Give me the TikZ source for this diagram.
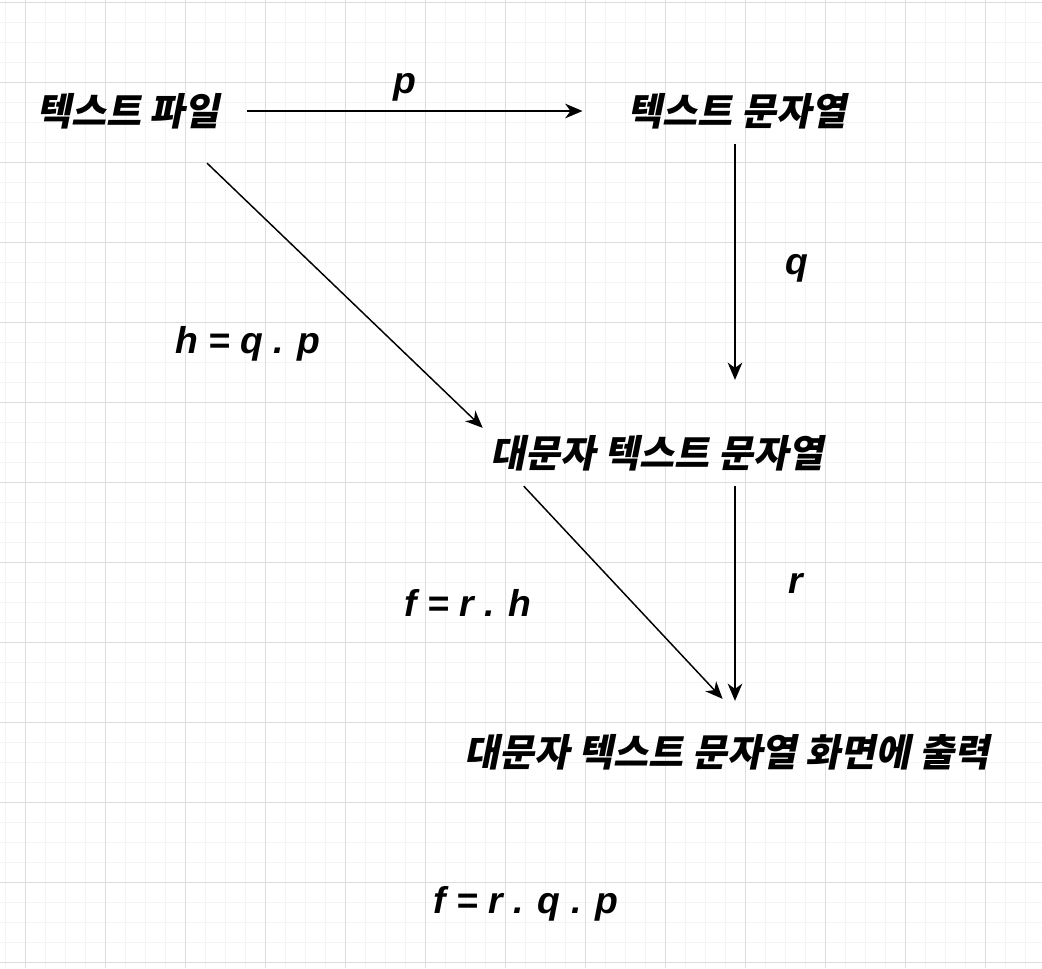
\documentclass[tikz,border=0pt]{standalone}
\usepackage{fontspec}
\usetikzlibrary{arrows.meta,calc}
\IfFontExistsTF{Noto Sans CJK KR Black}
  {\newfontfamily\krfont{Noto Sans CJK KR Black}[FakeSlant=0.2]}
  {\newfontfamily\krfont{Noto Sans CJK KR Bold}[FakeSlant=0.2, FakeBold=1.2]}
\newfontfamily\latfont{Liberation Sans}
\definecolor{gMajor}{HTML}{DDDDDD}
\definecolor{gMinor}{HTML}{F4F4F4}
\tikzset{
  term/.style={font=\krfont\fontsize{28.5}{32}\selectfont, inner sep=0pt},
  fn/.style={font=\latfont\bfseries\itshape\fontsize{28}{32}\selectfont, inner sep=0pt},
  map/.style={-{Stealth[length=13pt, width=11pt, inset=4pt]}, line width=1.1pt},
  minorgrid/.style={draw=gMinor, line width=0.75pt},
  majorgrid/.style={draw=gMajor, line width=0.75pt},
}

\begin{document}
\begin{tikzpicture}[x=0.75pt, y=-0.75pt]
\useasboundingbox (0,0) rectangle (1042,968);

%% ── grid paper ───────────────────────────────────────────────────────────
\foreach \gx in {5,25,...,1045} \draw[minorgrid] (\gx,0) -- (\gx,968);
\foreach \gy in {2,22,...,968} \draw[minorgrid] (0,\gy) -- (1042,\gy);
\foreach \gx in {25,105,...,1045} \draw[majorgrid] (\gx,0) -- (\gx,968);
\foreach \gy in {2,82,...,968} \draw[majorgrid] (0,\gy) -- (1042,\gy);

%% ── objects ──────────────────────────────────────────────────────────────
\node[term] (file) at (128,111) {텍스트 파일};
\node[term] (str) at (737,111) {텍스트 문자열};
\node[term] (upper) at (657,453) {대문자 텍스트 문자열};
\node[term] (screen) at (727,752) {대문자 텍스트 문자열 화면에 출력};

%% ── maps between them ────────────────────────────────────────────────────
\draw[map] ([shift={(27,0)}]file.east) -- ([shift={(-45,0)}]str.west);
\draw[map] ([shift={(-2,15)}]str.south) -- ([shift={(78,-55)}]upper.north);
\draw[map] ([shift={(-13,34)}]file.south east)
           -- ([shift={(-8,-7)}]upper.north west);
\draw[map] ([shift={(78,15)}]upper.south) -- ([shift={(8,-33)}]screen.north);
\draw[map] ([shift={(33,15)}]upper.south west)
           -- ([shift={(258,-35)}]screen.north west);

%% ── labels ───────────────────────────────────────────────────────────────
\node[fn] (p) at (405,87) {p};
\node[fn] (q) at (797,268) {q};
\node[fn] (r) at (796,583) {r};
\node[fn] (hdef) at (248,344) {h = q . p};
\node[fn] (fdef) at (468,603) {f = r . h};
\node[fn] (fall) at (526,904) {f = r . q . p};

\end{tikzpicture}
\end{document}
